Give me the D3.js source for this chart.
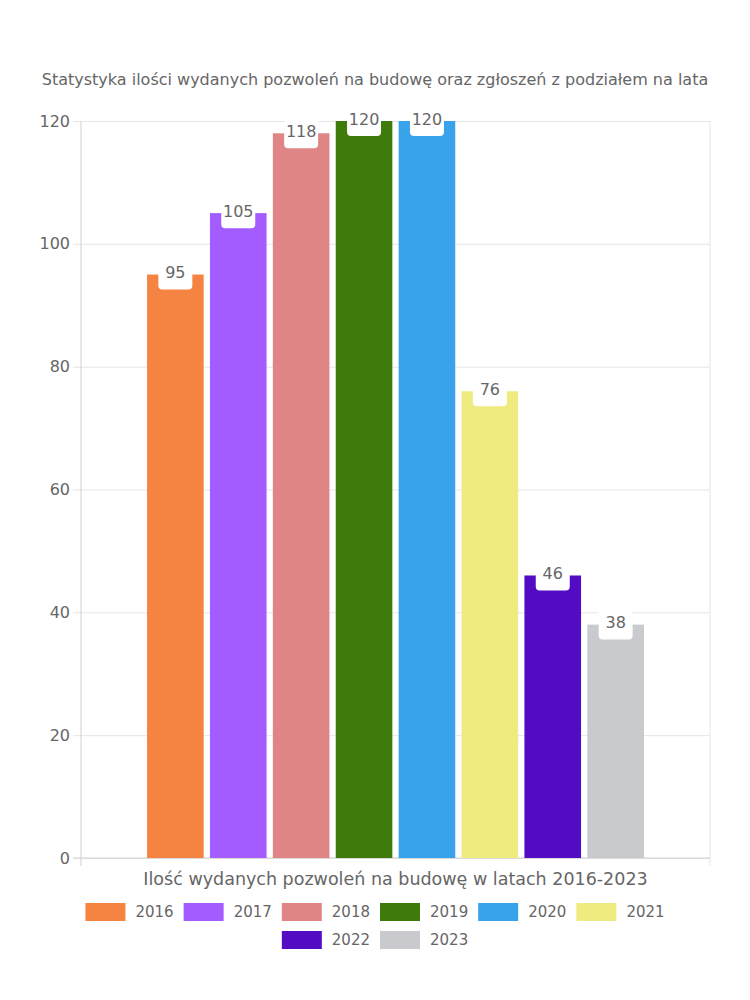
<!DOCTYPE html>
<html>
<head>
<meta charset="utf-8">
<script src="https://cdn.jsdelivr.net/npm/d3@7"></script>
<style>
  body { margin: 0; background: #fff; }
  svg { display: block; font-family: "DejaVu Sans", "Noto Sans", sans-serif; }
</style>
</head>
<body>
<div id="chart"></div>
<script>
const years = ["2016", "2017", "2018", "2019", "2020", "2021", "2022", "2023"]
const counts = [95, 105, 118, 120, 120, 76, 46, 38]
const colors = ["#f58442", "#a25cff", "#e08585", "#3e7b0b", "#38a3ea", "#f0eb7f", "#510cc4", "#c9cacd"]
const yTicks = [0, 20, 40, 60, 80, 100, 120]
const title = "Statystyka ilości wydanych pozwoleń na budowę oraz zgłoszeń z podziałem na lata"
const xTitle = "Ilość wydanych pozwoleń na budowę w latach 2016-2023"

const width = 750
const height = 1000
const margin = { left: 81, right: 40, top: 121, bottom: 142 }
const textColor = "#666"
const gridColor = "#e6e6e6"

const svg = d3.select("#chart")
  .append("svg")
  .attr("width", width)
  .attr("height", height)

const x0 = margin.left
const x1 = width - margin.right
const yTop = margin.top
const yBottom = height - margin.bottom

// One category, 8 datasets side by side (80% category, 90% bar)
const band = d3.scaleBand()
  .domain(["all"])
  .range([x0, x1])
  .paddingInner(0)
  .paddingOuter(0.125)

const xSub = d3.scaleBand()
  .domain(years)
  .range([band("all"), band("all") + band.bandwidth()])
  .paddingInner(0.1)
  .paddingOuter(0.05)

const y = d3.scaleLinear()
  .domain([0, 120])
  .range([yBottom, yTop])

// Title
svg.append("text")
  .attr("x", width / 2)
  .attr("y", 80)
  .attr("text-anchor", "middle")
  .attr("dominant-baseline", "middle")
  .attr("fill", textColor)
  .attr("font-size", 16)
  .text(title)

// Gridlines + y axis
const yAxis = d3.axisLeft(y)
  .tickValues(yTicks)
  .tickSize(-(x1 - x0) - 8)
  .tickPadding(11)

const yg = svg.append("g")
  .attr("transform", `translate(${x0 - 8}, 0)`)
  .call(yAxis)
yg.select(".domain").remove()
yg.selectAll(".tick line")
  .attr("x1", 0)
  .attr("x2", x1 - x0 + 8)
  .attr("stroke", gridColor)
yg.selectAll(".tick text")
  .attr("fill", textColor)
  .attr("font-size", 16)
  .attr("font-family", "DejaVu Sans")
  .attr("x", -3)

// left and right vertical lines, bottom axis
svg.append("line")
  .attr("x1", x0).attr("x2", x0)
  .attr("y1", yTop).attr("y2", yBottom + 8)
  .attr("stroke", "#d0d0d0")
svg.append("line")
  .attr("x1", x1).attr("x2", x1)
  .attr("y1", yTop).attr("y2", yBottom + 8)
  .attr("stroke", gridColor)
svg.append("line")
  .attr("x1", x0 - 8).attr("x2", x1)
  .attr("y1", yBottom).attr("y2", yBottom)
  .attr("stroke", "#d0d0d0")

// Bars
svg.append("g")
  .selectAll("rect")
  .data(years)
  .join("rect")
  .attr("x", d => xSub(d))
  .attr("width", xSub.bandwidth())
  .attr("y", (d, i) => y(counts[i]))
  .attr("height", (d, i) => yBottom - y(counts[i]))
  .attr("fill", (d, i) => colors[i])

// Value labels
const labels = svg.append("g")
  .selectAll("g")
  .data(years)
  .join("g")
  .attr("transform", (d, i) => `translate(${xSub(d) + xSub.bandwidth() / 2}, ${y(counts[i]) - 1})`)

labels.append("rect")
  .attr("x", -17)
  .attr("y", -16)
  .attr("width", 34)
  .attr("height", 32)
  .attr("rx", 4)
  .attr("fill", "#fff")

labels.append("text")
  .attr("text-anchor", "middle")
  .attr("dominant-baseline", "middle")
  .attr("fill", textColor)
  .attr("font-size", 16)
  .text((d, i) => counts[i])

// X axis title
svg.append("text")
  .attr("x", (x0 + x1) / 2)
  .attr("y", 880)
  .attr("text-anchor", "middle")
  .attr("dominant-baseline", "middle")
  .attr("fill", textColor)
  .attr("font-size", 17.5)
  .text(xTitle)

// Legend (wrapped rows, centered)
const boxW = 40
const boxH = 18
const gap = 10
const maxRow = 620
const legend = svg.append("g")
const items = years.map((yr, i) => {
  const t = legend.append("text")
    .attr("font-size", 15)
    .attr("fill", textColor)
    .attr("dominant-baseline", "middle")
    .text(yr)
  const w = boxW + gap + t.node().getComputedTextLength()
  return { yr, i, t, w }
})

const rows = []
let row = []
let rowW = 0
items.forEach(it => {
  const add = (row.length ? gap : 0) + it.w
  if (rowW + add > maxRow && row.length) {
    rows.push({ row, rowW })
    row = []
    rowW = 0
  }
  rowW += (row.length ? gap : 0) + it.w
  row.push(it)
})
rows.push({ row, rowW })

rows.forEach((r, ri) => {
  const cy = 912 + ri * 28
  let cx = width / 2 - r.rowW / 2
  r.row.forEach(it => {
    legend.append("rect")
      .attr("x", cx)
      .attr("y", cy - boxH / 2)
      .attr("width", boxW)
      .attr("height", boxH)
      .attr("fill", colors[it.i])
    it.t.attr("x", cx + boxW + gap).attr("y", cy)
    cx += it.w + gap
  })
})
</script>
</body>
</html>
